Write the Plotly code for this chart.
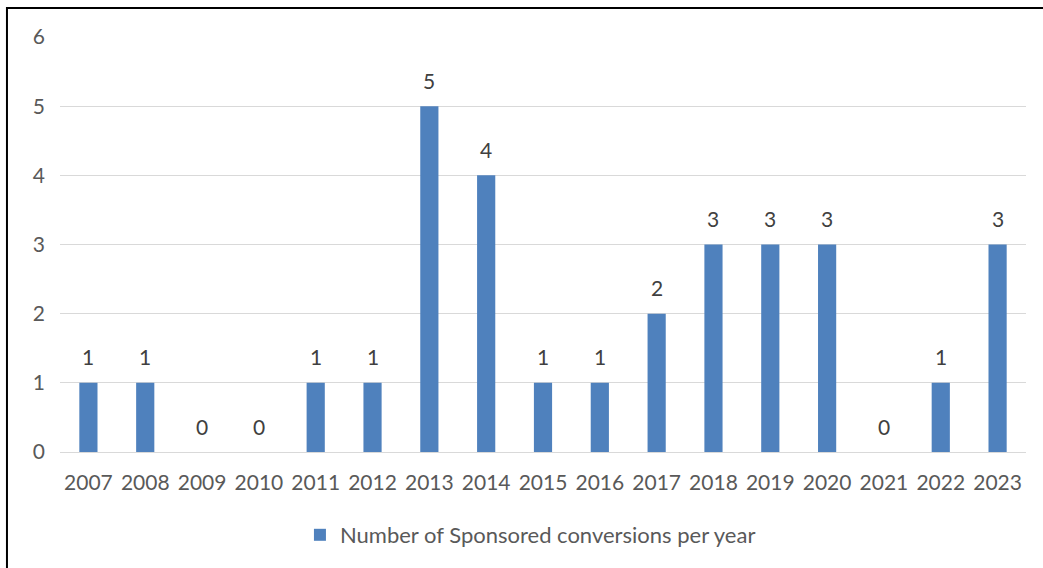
import plotly.graph_objects as go

years = ["2007", "2008", "2009", "2010", "2011", "2012", "2013", "2014", "2015",
         "2016", "2017", "2018", "2019", "2020", "2021", "2022", "2023"]
conversions = [1, 1, 0, 0, 1, 1, 5, 4, 1, 1, 2, 3, 3, 3, 0, 1, 3]
series_name = "Number of Sponsored conversions per year"

FONT = "Lato, Calibri, Carlito, sans-serif"
TXT = "#595959"
FS = 21

fig = go.Figure()
fig.add_trace(go.Bar(
    x=years, y=conversions, name=series_name,
    marker=dict(color="#4F81BD", line=dict(width=0)),
))

# category axis: annotation x is the category index
annotations = [dict(x=i, y=v, xref="x", yref="y", text=str(v), showarrow=False,
                    yanchor="middle", yshift=26,
                    font=dict(family=FONT, size=FS, color="#404040"))
               for i, v in enumerate(conversions)]

fig.update_layout(
    width=1043, height=568,
    margin=dict(l=60, r=17, t=37, b=116),
    paper_bgcolor="white", plot_bgcolor="white",
    bargap=0.68,
    showlegend=True,
    legend=dict(orientation="h", x=0.487, xanchor="center", y=-0.2, yanchor="middle",
                itemwidth=30,
                font=dict(family=FONT, size=22, color=TXT)),
    font=dict(family=FONT, size=FS, color=TXT),
    xaxis=dict(type="category", range=[-0.5, len(years) - 0.5],
               showgrid=False, showline=True, linecolor="#d9d9d9", linewidth=1,
               ticks="", tickfont=dict(family=FONT, size=FS, color=TXT),
               ticklabelstandoff=12),
    yaxis=dict(range=[0, 6], dtick=1, showgrid=True, gridcolor="#d9d9d9", gridwidth=1,
               zeroline=False, showline=False, ticks="",
               tickfont=dict(family=FONT, size=FS, color=TXT),
               ticklabelstandoff=14),
    annotations=annotations,
    shapes=[dict(type="rect", xref="paper", yref="paper",
                 x0=-0.0549, x1=1.2, y0=-0.6, y1=1.0699,
                 line=dict(color="black", width=2), fillcolor="rgba(0,0,0,0)",
                 layer="below")],
)

fig.write_html("out.html")
